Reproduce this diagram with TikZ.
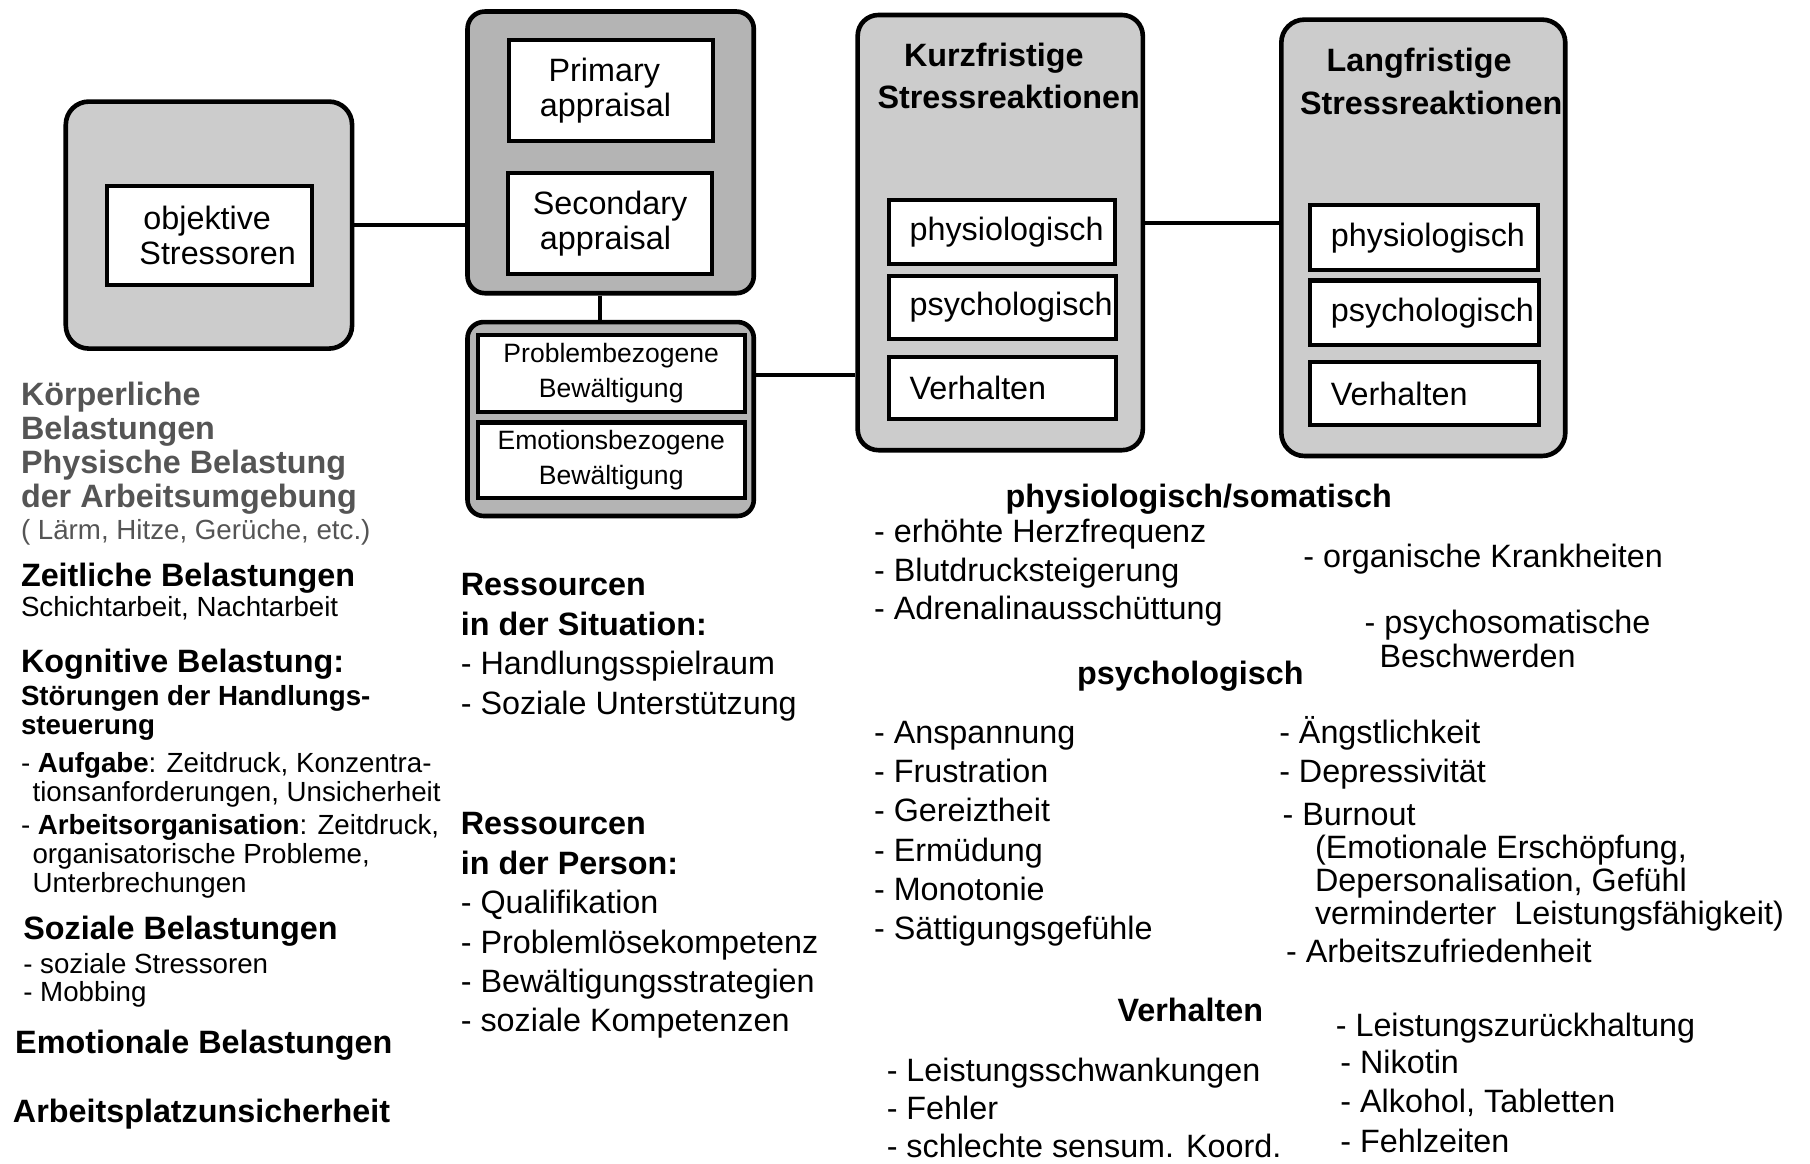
\documentclass[tikz,border=0pt]{standalone}
\usepackage{fontspec}
\setmainfont{Liberation Sans}
\definecolor{boxlight}{RGB}{204,204,204}
\definecolor{boxdark}{RGB}{180,180,180}
\definecolor{txtgray}{RGB}{85,85,85}
\tikzset{
  outerbox/.style={draw=black, line width=4pt, fill=boxlight, rounded corners=20pt, inner sep=0pt},
  outerdark/.style={outerbox, fill=boxdark, rounded corners=15pt},
  inbox/.style={draw=black, line width=3.5pt, fill=white, inner sep=0pt, align=center,
                font=\fontsize{28}{30}\selectfont},
  listbox/.style={draw=black, line width=3.5pt, fill=white, inner ysep=0pt, inner xsep=18pt,
                align=left, font=\fontsize{28}{30}\selectfont},
  conn/.style={line width=3.5pt},
  lbl/.style={inner sep=0pt, anchor=base west, align=left},
  regL/.style={font=\fontsize{28}{34}\selectfont},
  boldL/.style={font=\fontsize{28}{30}\selectfont\bfseries},
  regS/.style={font=\fontsize{24}{25}\selectfont},
}
\begin{document}
\begin{tikzpicture}[x=1pt,y=-1pt]
\useasboundingbox[fill=white] (0,0) rectangle (1568,1008);

% ---- boxes ----
\node[outerbox, minimum width=248pt, minimum height=214pt] (A) at (181,195) {};
\node[inbox, minimum width=177pt, minimum height=86pt] (Aobj) at (181.5,204) {\hspace*{-4pt}objektive\\\hspace*{14pt}Stressoren};

\node[outerdark, minimum width=248pt, minimum height=244pt] (B) at (529,132) {};
\node[inbox, minimum width=177pt, minimum height=87pt] (B1) at (529.5,78.5) {Primary\hspace*{12pt}\\appraisal\hspace*{10pt}};
\node[inbox, minimum width=177pt, minimum height=87pt] (B2) at (528.5,193.5) {Secondary\\appraisal\hspace*{8pt}};

\node[outerdark, minimum width=248pt, minimum height=168pt, rounded corners=14pt] (C) at (529,363) {};
\node[inbox, minimum width=231pt, minimum height=67pt, font=\fontsize{23}{30}\selectfont] (C1) at (529.5,323.5) {Problembezogene\\Bewältigung};
\node[inbox, minimum width=231pt, minimum height=65pt, font=\fontsize{23}{30}\selectfont] (C2) at (529.5,398.5) {Emotionsbezogene\\Bewältigung};

\node[outerbox, minimum width=247pt, minimum height=377pt, rounded corners=18pt] (D) at (866.5,201.5) {};
\node[lbl, font=\fontsize{28}{36}\selectfont\bfseries] (Dt) at (760,94) {\hspace*{23pt}Kurzfristige\\Stressreaktionen};
\node[listbox, text width=160pt, minimum height=56pt] (D1) at (868,201) {physiologisch};
\node[listbox, text width=161pt, minimum height=55pt] (D2) at (868.5,266.5) {psychologisch};
\node[listbox, text width=161pt, minimum height=54pt] (D3) at (868.5,336) {Verhalten};

\node[outerbox, minimum width=246pt, minimum height=378pt] (E) at (1233,206) {};
\node[lbl, font=\fontsize{28}{37}\selectfont\bfseries] (Et) at (1126,99) {\hspace*{23pt}Langfristige\\Stressreaktionen};
\node[listbox, text width=161pt, minimum height=56pt] (E1) at (1233.5,206) {physiologisch};
\node[listbox, text width=162pt, minimum height=56pt] (E2) at (1234,271) {psychologisch};
\node[listbox, text width=162pt, minimum height=54pt] (E3) at (1234,341) {Verhalten};

% ---- connectors ----
\draw[conn] (A.east) -- (A.east -| B.west);
\coordinate (bs) at ([xshift=-9pt]B.south);
\draw[conn] (bs) -- (bs |- C.north);
\coordinate (ce) at ([yshift=38pt]C.east);
\draw[conn] (ce) -- (ce -| D.west);
\coordinate (de) at ([yshift=8.5pt]D.east);
\draw[conn] (de) -- (de -| E.west);

% ---- left column (anchor = baseline of last line) ----
\node[lbl, text=txtgray, font=\fontsize{28}{29.7}\selectfont\bfseries] (L1) at (18,440)
  {Körperliche\\Belastungen\\Physische Belastung\\der Arbeitsumgebung};
\node[lbl, text=txtgray, regS] (L1b) at (18,467) {( Lärm, Hitze, Gerüche, etc.)};
\node[lbl, boldL] (L2) at (18,508) {Zeitliche Belastungen};
\node[lbl, regS] (L2b) at (18,534) {Schichtarbeit, Nachtarbeit};
\node[lbl, boldL] (L3) at (18,583) {Kognitive Belastung:};
\node[lbl, font=\fontsize{24}{25}\selectfont\bfseries] (L3b) at (18,636) {Störungen der Handlungs-\\steuerung};
\node[lbl, regS] (L3c) at (18,694) {- \textbf{Aufgabe}: Zeitdruck, Konzentra-\\\hspace*{10pt}tionsanforderungen, Unsicherheit};
\node[lbl, regS] (L3d) at (18,773) {- \textbf{Arbeitsorganisation}: Zeitdruck,\\\hspace*{10pt}organisatorische Probleme,\\\hspace*{10pt}Unterbrechungen};
\node[lbl, boldL] (L4) at (20,814) {Soziale Belastungen};
\node[lbl, regS] (L4b) at (20,868) {- soziale Stressoren\\- Mobbing};
\node[lbl, boldL] (L5) at (13,913) {Emotionale Belastungen};
\node[lbl, boldL] (L6) at (11,972) {Arbeitsplatzunsicherheit};

% ---- middle column ----
\node[lbl, font=\fontsize{28}{34.3}\selectfont] (M1) at (399,619)
  {\textbf{Ressourcen}\\\textbf{in der Situation:}\\- Handlungsspielraum\\- Soziale Unterstützung};
\node[lbl, font=\fontsize{28}{34.2}\selectfont] (M2) at (399,894)
  {\textbf{Ressourcen}\\\textbf{in der Person:}\\- Qualifikation\\- Problemlösekompetenz\\- Bewältigungsstrategien\\- soziale Kompetenzen};

% ---- right column ----
\node[lbl, boldL] (R1) at (871,440) {physiologisch/somatisch};
\node[lbl, font=\fontsize{28}{33.5}\selectfont] (R2) at (757,537)
  {- erhöhte Herzfrequenz\\- Blutdrucksteigerung\\- Adrenalinausschüttung};
\node[lbl, regL] (R3) at (1129,492) {- organische Krankheiten};
\node[lbl, font=\fontsize{28}{29}\selectfont] (R4) at (1182,578) {- psychosomatische\\\hspace*{13pt}Beschwerden};
\node[lbl, boldL] (R5) at (933,593) {psychologisch};
\node[lbl, regL] (R6) at (757,814)
  {- Anspannung\\- Frustration\\- Gereiztheit\\- Ermüdung\\- Monotonie\\- Sättigungsgefühle};
\node[lbl, regL] (R7) at (1108,678) {- Ängstlichkeit\\- Depressivität};
\node[lbl, regL] (R8) at (1111,715) {- Burnout};
\node[lbl, font=\fontsize{28}{28.5}\selectfont] (R9) at (1139,801)
  {(Emotionale Erschöpfung,\\Depersonalisation, Gefühl\\verminderter\ \ Leistungsfähigkeit)};
\node[lbl, regL] (R10) at (1114,834) {- Arbeitszufriedenheit};
\node[lbl, boldL] (R11) at (968,885) {Verhalten};
\node[lbl, font=\fontsize{28}{33}\selectfont] (R12) at (768,1003)
  {- Leistungsschwankungen\\- Fehler\\- schlechte sensum. Koord.};
\node[lbl, regL] (R13) at (1157,898) {- Leistungszurückhaltung};
\node[lbl, regL] (R14) at (1161,998) {- Nikotin\\- Alkohol, Tabletten\\- Fehlzeiten};
\end{tikzpicture}
\end{document}
